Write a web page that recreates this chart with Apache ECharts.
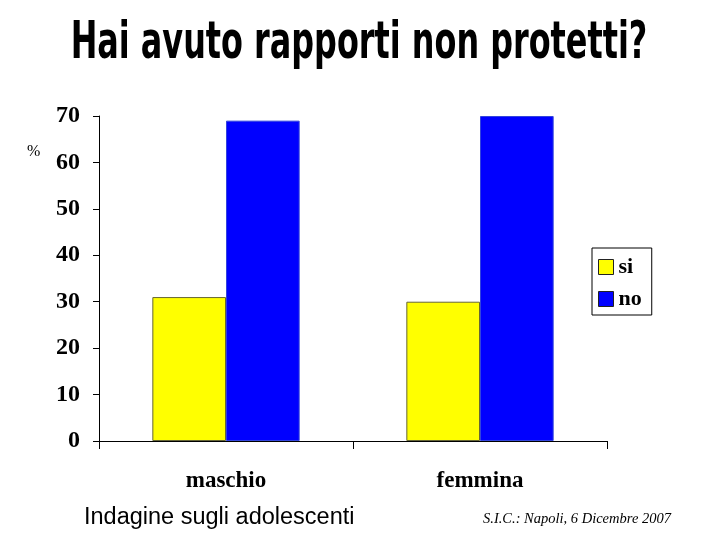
<!DOCTYPE html>
<html><head><meta charset="utf-8">
<script src="https://cdn.jsdelivr.net/npm/echarts@6/dist/echarts.min.js"></script>
<style>html,body{margin:0;padding:0;background:#fff}#c{width:720px;height:540px}</style>
</head><body><div id="c"></div>
<script>
const categories = ['maschio', 'femmina'];
const siValues = [31, 30];
const noValues = [69, 70];
const seriesNames = ['si', 'no'];
const titleText = 'Hai avuto rapporti non protetti?';

const chart = echarts.init(document.getElementById('c'), null, {renderer: 'canvas'});
chart.setOption({
  backgroundColor: '#fff',
  animation: false,
  graphic: [
    {type: 'text', x: 359, y: 19, scaleX: 0.625, scaleY: 1,
     style: {text: titleText, font: 'bold 51px "DejaVu Sans"', fill: '#000', textAlign: 'center', textVerticalAlign: 'top'}},
    {type: 'text', left: 27, top: 144, style: {text: '%', font: '16px "Liberation Serif"', fill: '#000'}},
    {type: 'text', left: 84, top: 506, style: {text: 'Indagine sugli adolescenti', font: '23.5px "Liberation Sans"', fill: '#000'}},
    {type: 'text', left: 483, top: 512, style: {text: 'S.I.C.: Napoli, 6 Dicembre 2007', font: 'italic 14.5px "Liberation Serif"', fill: '#000'}}
  ],
  legend: {
    orient: 'vertical', left: 592, top: 248, width: 60,
    padding: [8, 10, 5, 6], itemGap: 10,
    borderColor: '#000', borderWidth: 1,
    icon: 'rect',
    itemWidth: 15, itemHeight: 15, itemStyle: {borderColor: '#222', borderWidth: 1},
    textStyle: {fontFamily: '"Liberation Serif"', fontWeight: 'bold', fontSize: 22, color: '#000'},
    data: seriesNames
  },
  grid: {left: 99, right: 113, top: 116, bottom: 99},
  xAxis: {
    type: 'category', data: categories,
    axisLine: {lineStyle: {color: '#000', width: 1}},
    axisTick: {show: true, length: 8, lineStyle: {color: '#000'}},
    axisLabel: {margin: 29, fontFamily: '"Liberation Serif"', fontWeight: 'bold', fontSize: 23, color: '#000'}
  },
  yAxis: {
    type: 'value', min: 0, max: 70, interval: 10,
    splitLine: {show: false},
    axisLine: {show: true, lineStyle: {color: '#000', width: 1}},
    axisTick: {show: true, length: 6, lineStyle: {color: '#000'}},
    axisLabel: {margin: 19, fontFamily: '"Liberation Serif"', fontWeight: 'bold', fontSize: 24, color: '#000'}
  },
  series: [
    {name: seriesNames[0], type: 'bar', data: siValues, barWidth: '29%', barGap: '0%',
     itemStyle: {color: '#FFFF00', borderColor: '#666633', borderWidth: 1}},
    {name: seriesNames[1], type: 'bar', data: noValues, barWidth: '29%',
     itemStyle: {color: '#0000FF', borderColor: '#3344dd', borderWidth: 1}}
  ]
});
</script></body></html>
